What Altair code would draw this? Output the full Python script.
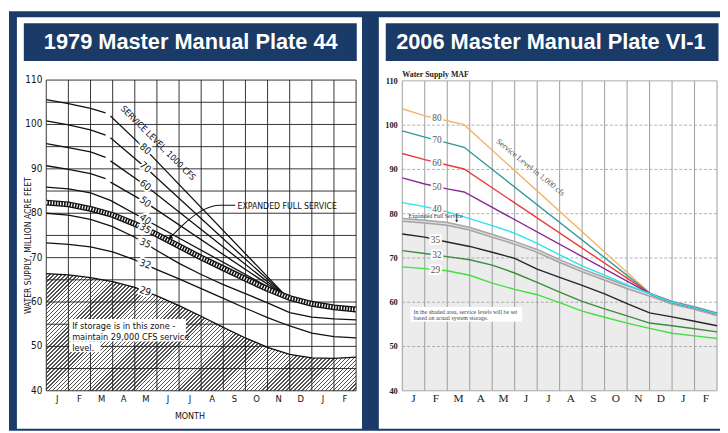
import altair as alt
import pandas as pd

# ------------------------------------------------------------------ data
MONTHS = ["J", "F", "M", "A", "M", "J", "J", "A", "S", "O", "N", "D", "J", "F"]
MONTH_EDGES = [0, 1, 2, 3, 4, 5, 6, 7, 8, 9, 10, 11, 12, 13, 14]
MONTH_MID = [0.5, 1.5, 2.5, 3.5, 4.5, 5.5, 6.5, 7.5, 8.5, 9.5, 10.5, 11.5, 12.5, 13.5]
Y_TICKS = [40, 50, 60, 70, 80, 90, 100, 110]
L_GRID_Y = [40, 45, 50, 55, 60, 65, 70, 75, 80, 85, 90, 95, 100, 105, 110]
R_DASH_Y = [50, 60, 70, 80, 90, 100]

# 1979 Master Manual Plate 44 (service level curves, 1000 cfs)
L_UP_M = [0, 1, 2, 2.68]
L_80_UP = [105.6, 104.7, 103.6, 102.6]
L_70_UP = [100.8, 99.9, 98.8, 97.6]
L_60_UP = [95.7, 94.8, 93.8, 92.6]
L_50_UP = [90.7, 89.9, 88.9, 87.8]
L_DN_M = [2.9, 4.47, 10.9]
L_80_DN = [101.9, 94.45, 61.0]
L_70_DN = [97.0, 90.35, 61.0]
L_60_DN = [91.8, 86.3, 61.0]
L_50_DN = [87.0, 82.5, 61.0]
L_40_M = [0, 1, 2, 2.9, 4.47, 10.9]
L_40 = [85.9, 85.5, 84.6, 82.9, 78.6, 61.0]
L_EFS = [82.4, 82.0, 81.0, 79.6, 77.6, 75.2, 72.6, 70.0, 67.6, 65.2, 62.9, 60.9, 59.6, 58.8, 58.3]
L_35 = [80.0, 79.6, 78.6, 77.0, 74.6, 71.6, 68.7, 66.2, 63.9, 61.9, 59.8, 57.6, 56.6, 56.2, 56.0]
L_32 = [73.3, 73.0, 72.4, 71.3, 69.5, 67.3, 65.2, 63.0, 60.8, 58.6, 56.5, 54.6, 53.0, 52.2, 51.9]
L_29 = [66.4, 66.1, 65.5, 64.6, 63.3, 61.4, 59.2, 56.8, 54.3, 51.9, 49.8, 48.2, 47.4, 47.3, 47.6]
L_LABELS = ["80", "70", "60", "50", "40", "35", "35", "32", "29"]
L_LABEL_M = [4.47, 4.47, 4.47, 4.47, 4.47, 4.47, 4.47, 4.47, 4.47]
L_LABEL_V = [94.45, 90.35, 86.3, 82.5, 78.6, 76.5, 73.2, 68.5, 62.4]
L_LABEL_ANGLE = [42, 42, 40, 38, 35, 28, 25, 20, 18]
L_LEAD_M = [8.54, 7.83, 7.07, 6.18, 5.62]
L_LEAD_V = [81.8, 81.8, 80.7, 77.4, 74.6]
L_NOTE = ["If storage is in this zone -", "maintain 29,000 CFS service", "level."]
L_NOTE_V = [54.7, 52.1, 49.7]

# 2006 Master Manual Plate VI-1
R_STEEP_M = [0, 1, 2, 2.75, 11.07, 12, 13, 14]
R_80 = [103.7, 102.1, 101.0, 100.1, 61.8, 60.0, 58.8, 57.4]
R_70 = [98.7, 97.3, 96.0, 95.0, 61.8, 60.0, 58.8, 57.4]
R_60 = [93.6, 92.2, 91.0, 90.1, 61.8, 60.0, 58.8, 57.4]
R_50 = [88.1, 86.7, 85.6, 84.9, 61.8, 60.0, 58.8, 57.4]
R_UP_M = [0, 1, 2, 3, 4, 5, 6, 7, 8, 9, 10, 11.07, 12, 13, 14]
R_40 = [82.5, 81.6, 80.4, 78.9, 77.3, 75.6, 73.3, 70.7, 68.2, 66.1, 63.9, 61.8, 60.0, 58.8, 57.4]
R_EFS = [78.6, 78.2, 77.7, 76.6, 75.0, 73.4, 71.6, 69.3, 67.2, 65.3, 63.4, 61.6, 59.9, 58.7, 57.3]
R_35 = [75.4, 74.7, 73.6, 72.6, 71.3, 69.9, 67.5, 65.6, 63.8, 61.9, 59.7, 57.6, 56.7, 55.7, 54.7]
R_32 = [71.65, 71.0, 70.3, 69.6, 68.4, 66.6, 64.5, 62.3, 60.2, 58.5, 56.9, 55.3, 54.7, 54.0, 53.3]
R_29 = [68.0, 67.6, 67.1, 66.1, 64.3, 62.9, 61.7, 59.9, 58.0, 56.6, 55.3, 54.1, 53.0, 52.4, 51.8]
R_NAMES = ["80", "70", "60", "50", "40", "35", "32", "29"]
R_COLORS = ["#f0b56a", "#2f9a96", "#ec3a3c", "#8c2a9a", "#27e4ec", "#262626", "#3d8c3d", "#3fe03f"]
R_LABEL_M = [1.54, 1.54, 1.54, 1.54, 1.54, 1.48, 1.54, 1.48]
R_LABEL_V = [101.5, 96.6, 91.55, 86.1, 80.95, 74.1, 70.6, 67.3]
R_NOTE = ["In the shaded area, service levels will be set", "based on actual system storage."]
R_NOTE_V = [57.9, 56.4]

# ------------------------------------------------------------------ style
NAVY = "#1a3a68"
COND = "Liberation Sans Narrow, DejaVu Sans Condensed, Arial Narrow, sans-serif"
SANS = "Liberation Sans, Arial, Helvetica, sans-serif"
SERIF = "Liberation Serif, Times New Roman, DejaVu Serif, serif"

LX = alt.Scale(domain=[0, 14], range=[38.7, 352.0], nice=False, zero=False)
LY = alt.Scale(domain=[40, 110], range=[384.7, 70.5], nice=False, zero=False)
RX = alt.Scale(domain=[0, 14], range=[398.7, 717.0], nice=False, zero=False)
RY = alt.Scale(domain=[40, 110], range=[384.7, 71.3], nice=False, zero=False)


def qx(f, s):
    return alt.X(f, type="quantitative", scale=s, axis=None)


def qy(f, s):
    return alt.Y(f, type="quantitative", scale=s, axis=None)


def dxd(v, s):
    return alt.XDatum(v, type="quantitative", scale=s, axis=None)


def dyd(v, s):
    return alt.YDatum(v, type="quantitative", scale=s, axis=None)


def sdf(name, ms, vs):
    return pd.DataFrame({"s": name, "m": ms, "v": vs})


ONE = pd.DataFrame({"k": [0]})


def box(x, x2, y, y2, color):
    return alt.Chart(ONE).mark_rect(color=color).encode(
        x=alt.value(x), x2=alt.value(x2), y=alt.value(y), y2=alt.value(y2))


def ptext(txt, x, y, **kw):
    return alt.Chart(ONE).mark_text(**kw).encode(
        x=alt.value(x), y=alt.value(y), text=alt.value(txt))


# ------------------------------------------------------------------ frames
background = [
    box(1, 720, 1, 425, NAVY),
    box(9, 358, 7, 423, "white"),
    box(375, 720, 7, 423, "white"),
    box(16, 352.7, 13, 51.3, NAVY),
    box(382, 718.5, 13, 51.3, NAVY),
    ptext("1979 Master Manual Plate 44", 184.8, 38.8, font=SANS, fontSize=22,
          fontWeight="bold", color="white", align="center", baseline="alphabetic"),
    ptext("2006 Master Manual Plate VI-1", 549, 38.8, font=SANS, fontSize=22,
          fontWeight="bold", color="white", align="center", baseline="alphabetic"),
]

# ------------------------------------------------------------------ left chart
edges_df = pd.DataFrame({"m": MONTH_EDGES})
mid_df = pd.DataFrame({"m": MONTH_MID, "t": MONTHS})
lgrid_df = pd.DataFrame({"v": L_GRID_Y})
yt_df = pd.DataFrame({"v": Y_TICKS, "t": [str(v) for v in Y_TICKS]})

# diagonal hatch for the "29,000 cfs" zone (gradient with sharp stops, 45 degree stripes)
W = 352.0 - 38.7
H = (max(L_29) - 40) / 70 * (384.7 - 70.5)
r = H / W
s = (1 + r) / (1 + r * r)
N = int(round((W + H) / 4.0))
stops = []
for k in range(N):
    a = k / N
    b = (k + 0.38) / N
    c = (k + 1) / N
    stops += [{"offset": a, "color": "#333333"}, {"offset": b, "color": "#333333"},
              {"offset": b, "color": "#ffffff"}, {"offset": c, "color": "#ffffff"}]
hatch = {"gradient": "linear", "x1": 0, "y1": 0, "x2": s, "y2": s * r, "stops": stops}

zone = alt.Chart(sdf("29", MONTH_EDGES, L_29)).mark_area(fill=hatch, opacity=0.85).encode(
    x=qx("m", LX), y=qy("v", LY), y2=alt.Y2Datum(40))

lv = alt.Chart(edges_df).mark_rule(color="#1e1e1e", strokeWidth=0.9).encode(
    x=qx("m", LX), y=dyd(40, LY), y2=alt.Y2Datum(110))
lh = alt.Chart(lgrid_df).mark_rule(color="#1e1e1e", strokeWidth=0.9).encode(
    y=qy("v", LY), x=dxd(0, LX), x2=alt.X2Datum(14))

left_lines_df = pd.concat([
    sdf("80a", L_UP_M, L_80_UP), sdf("80b", L_DN_M, L_80_DN),
    sdf("70a", L_UP_M, L_70_UP), sdf("70b", L_DN_M, L_70_DN),
    sdf("60a", L_UP_M, L_60_UP), sdf("60b", L_DN_M, L_60_DN),
    sdf("50a", L_UP_M, L_50_UP), sdf("50b", L_DN_M, L_50_DN),
    sdf("40", L_40_M, L_40), sdf("35", MONTH_EDGES, L_35),
    sdf("32", MONTH_EDGES, L_32), sdf("29", MONTH_EDGES, L_29),
])
llines = alt.Chart(left_lines_df).mark_line(color="#111111", strokeWidth=1.3).encode(
    x=qx("m", LX), y=qy("v", LY), detail="s:N")

efs_df = sdf("efs", MONTH_EDGES, L_EFS)
lband1 = alt.Chart(efs_df).mark_line(color="#111111", strokeWidth=6).encode(
    x=qx("m", LX), y=qy("v", LY))
lband2 = alt.Chart(efs_df).mark_line(color="white", strokeWidth=3.4, strokeDash=[1.2, 1.6]).encode(
    x=qx("m", LX), y=qy("v", LY))

llab_df = pd.DataFrame({"m": L_LABEL_M, "v": L_LABEL_V, "t": L_LABELS, "a": L_LABEL_ANGLE})
llab_halo = alt.Chart(llab_df).mark_text(font=COND, fontSize=10, color="white", stroke="white",
                                         strokeWidth=4, baseline="middle").encode(
    x=qx("m", LX), y=qy("v", LY), text="t:N", angle=alt.Angle("a:Q", scale=None))
llab = alt.Chart(llab_df).mark_text(font=COND, fontSize=10, color="#111111", baseline="middle").encode(
    x=qx("m", LX), y=qy("v", LY), text="t:N", angle=alt.Angle("a:Q", scale=None))

lead = alt.Chart(pd.DataFrame({"m": L_LEAD_M, "v": L_LEAD_V})).mark_line(
    color="#111111", strokeWidth=1.1, interpolate="monotone").encode(x=qx("m", LX), y=qy("v", LY))
lead_tip = alt.Chart(pd.DataFrame({"m": L_LEAD_M[-1:], "v": L_LEAD_V[-1:]})).mark_point(
    shape="triangle", filled=True, color="#111111", size=28, angle=235, opacity=1).encode(
    x=qx("m", LX), y=qy("v", LY))

note_box1 = alt.Chart(ONE).mark_rect(color="white").encode(
    x=dxd(1.04, LX), x2=alt.X2Datum(6.31), y=dyd(56.2, LY), y2=alt.Y2Datum(51.1))
note_box2 = alt.Chart(ONE).mark_rect(color="white").encode(
    x=dxd(1.04, LX), x2=alt.X2Datum(2.45), y=dyd(51.1, LY), y2=alt.Y2Datum(48.7))
note_txt = alt.Chart(pd.DataFrame({"t": L_NOTE, "v": L_NOTE_V})).mark_text(
    font=COND, fontSize=9.2, color="#111111", align="left", baseline="middle").encode(
    x=dxd(1.17, LX), y=qy("v", LY), text="t:N")

svc_txt = alt.Chart(ONE).mark_text(font=COND, fontSize=8.8, color="#111111", angle=45,
                                   baseline="middle").encode(
    x=dxd(5.06, LX), y=dyd(95.85, LY), text=alt.value("SERVICE LEVEL, 1000 CFS"))
efs_txt = alt.Chart(ONE).mark_text(font=COND, fontSize=8.8, color="#111111", align="left",
                                   baseline="middle").encode(
    x=dxd(8.64, LX), y=dyd(81.7, LY), text=alt.value("EXPANDED FULL SERVICE"))

lyl = alt.Chart(yt_df).mark_text(font=COND, fontSize=10, color="#111111", align="right",
                                 baseline="middle", dx=-4).encode(
    x=dxd(0, LX), y=qy("v", LY), text="t:N")
lml = alt.Chart(mid_df).mark_text(font=COND, fontSize=9.5, color="#111111", baseline="middle",
                                  dy=8).encode(
    x=qx("m", LX), y=dyd(40, LY), text="t:N")

left = alt.layer(zone, lv, lh, llines, lband1, lband2, llab_halo, llab, lead, lead_tip,
                 note_box1, note_box2, note_txt, svc_txt, efs_txt, lyl, lml)

left_titles = [
    ptext("WATER SUPPLY, MILLION ACRE FEET", 20, 238, font=COND, fontSize=8.6, angle=270,
          color="#111111", align="center", baseline="middle"),
    ptext("MONTH", 184, 410, font=COND, fontSize=9, color="#111111", align="center",
          baseline="middle"),
]

# ------------------------------------------------------------------ right chart
rdash_df = pd.DataFrame({"v": R_DASH_Y})
rshade = alt.Chart(sdf("efs", R_UP_M, R_EFS)).mark_area(color="#ececec").encode(
    x=qx("m", RX), y=qy("v", RY), y2=alt.Y2Datum(40))
rv = alt.Chart(edges_df).mark_rule(color="#9c9c9c", strokeWidth=1).encode(
    x=qx("m", RX), y=dyd(40, RY), y2=alt.Y2Datum(110))
rh = alt.Chart(rdash_df).mark_rule(color="#9c9c9c", strokeWidth=0.8, strokeDash=[3, 2]).encode(
    y=qy("v", RY), x=dxd(0, RX), x2=alt.X2Datum(14))
rframe = alt.Chart(pd.DataFrame({"v": [40, 110]})).mark_rule(color="#a8a8a8", strokeWidth=1).encode(
    y=qy("v", RY), x=dxd(0, RX), x2=alt.X2Datum(14))

r_df = pd.concat([
    sdf("80", R_STEEP_M, R_80), sdf("70", R_STEEP_M, R_70), sdf("60", R_STEEP_M, R_60),
    sdf("50", R_STEEP_M, R_50), sdf("35", MONTH_EDGES, R_35), sdf("32", MONTH_EDGES, R_32),
    sdf("29", MONTH_EDGES, R_29), sdf("40", R_UP_M, R_40),
])
refs_df = sdf("efs", R_UP_M, R_EFS)
rband1 = alt.Chart(refs_df).mark_line(color="#a4a4a4", strokeWidth=4.2).encode(
    x=qx("m", RX), y=qy("v", RY))
rband2 = alt.Chart(refs_df).mark_line(color="#dedede", strokeWidth=1.2).encode(
    x=qx("m", RX), y=qy("v", RY))
rlines = alt.Chart(r_df).mark_line(strokeWidth=1.4).encode(
    x=qx("m", RX), y=qy("v", RY),
    color=alt.Color("s:N", scale=alt.Scale(domain=R_NAMES, range=R_COLORS), legend=None))

rlab_df = pd.DataFrame({"m": R_LABEL_M, "v": R_LABEL_V, "t": R_NAMES})
rlab_halo = alt.Chart(rlab_df).mark_text(font=SERIF, fontSize=9.5, color="white", stroke="white",
                                         strokeWidth=4, baseline="middle").encode(
    x=qx("m", RX), y=qy("v", RY), text="t:N")
rlab = alt.Chart(rlab_df).mark_text(font=SERIF, fontSize=9.5, color="#555555", baseline="middle").encode(
    x=qx("m", RX), y=qy("v", RY), text="t:N")

refs_txt = alt.Chart(ONE).mark_text(font=SERIF, fontSize=6, color="#333333", align="left",
                                    baseline="middle").encode(
    x=dxd(0.28, RX), y=dyd(79.4, RY), text=alt.value("Expanded Full Service"))
refs_arrow = alt.Chart(ONE).mark_rule(color="#333333", strokeWidth=0.8).encode(
    x=dxd(2.42, RX), y=dyd(80.1, RY), y2=alt.Y2Datum(78.2))
refs_tip = alt.Chart(ONE).mark_point(shape="triangle-down", filled=True, color="#333333",
                                     size=10, opacity=1).encode(
    x=dxd(2.42, RX), y=dyd(78.3, RY))

rsvc = alt.Chart(ONE).mark_text(font=SERIF, fontSize=8.3, color="#555555", angle=39,
                                baseline="middle").encode(
    x=dxd(5.69, RX), y=dyd(90.4, RY), text=alt.value("Service Level in 1,000 cfs"))

rnote_box = alt.Chart(ONE).mark_rect(color="white").encode(
    x=dxd(0.37, RX), x2=alt.X2Datum(5.33), y=dyd(58.95, RY), y2=alt.Y2Datum(55.6))
rnote = alt.Chart(pd.DataFrame({"t": R_NOTE, "v": R_NOTE_V})).mark_text(
    font=SERIF, fontSize=6, color="#444444", align="left", baseline="middle").encode(
    x=dxd(0.5, RX), y=qy("v", RY), text="t:N")

ryl = alt.Chart(yt_df).mark_text(font=SERIF, fontSize=8.5, fontWeight="bold", color="#222222",
                                 align="right", baseline="middle", dx=-4.5).encode(
    x=dxd(0, RX), y=qy("v", RY), text="t:N")
rml = alt.Chart(mid_df).mark_text(font=SERIF, fontSize=11.5, color="#222222", baseline="middle",
                                  dy=8).encode(
    x=qx("m", RX), y=dyd(40, RY), text="t:N")
rtitle = alt.Chart(ONE).mark_text(font=SERIF, fontSize=8, fontWeight="bold", color="#222222",
                                  align="left", baseline="middle", dy=-6).encode(
    x=dxd(0, RX), y=dyd(110, RY), text=alt.value("Water Supply MAF"))

right = alt.layer(rshade, rv, rh, rframe, rband1, rband2, rlines, rlab_halo, rlab, refs_txt,
                  refs_arrow, refs_tip, rsvc, rnote_box, rnote, ryl, rml, rtitle)

chart = alt.layer(*background, *left_titles, left, right).resolve_scale(
    x="independent", y="independent"
).properties(
    width=720, height=425, padding=0, background="white",
    autosize=alt.AutoSizeParams(type="none"),
).configure_view(stroke=None)

chart.save("out.html", embed_options={"renderer": "svg", "actions": False})
